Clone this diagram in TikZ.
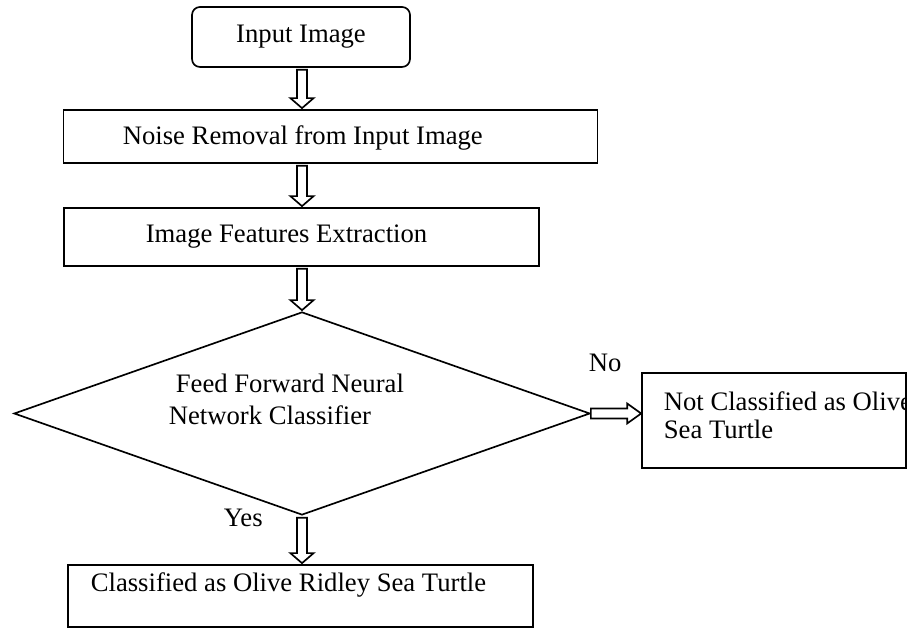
\documentclass[tikz,border=0pt]{standalone}
\usepackage{fontspec}
\setmainfont{Liberation Serif}
\usetikzlibrary{shapes.geometric,calc}
\newcommand\vblock[2]{%
  \draw[blk] let \p1=($(ax |- #1)+(0,2)$), \p2=($(ax |- #2)+(0,-1)$) in
    (\x1-2.25pt,\y1) -- (\x1+2.25pt,\y1) -- (\x1+2.25pt,\y2+4.5pt) --
    (\x1+5.2pt,\y2+4.5pt) -- (\x1,\y2) -- (\x1-5.2pt,\y2+4.5pt) --
    (\x1-2.25pt,\y2+4.5pt) -- cycle;}
\begin{document}
\begin{tikzpicture}[x=0.45pt,y=-0.45pt, line width=0.75pt,
  every node/.style={font=\fontsize{12}{14}\selectfont, inner sep=0pt},
  box/.style={draw, rectangle},
  txt/.style={anchor=base west},
  blk/.style={draw, line width=0.75pt, line join=miter, fill=white}]
\useasboundingbox[fill=white] (0,0) rectangle (916,633);
\coordinate (ax) at (302,0);

% boxes
\node[box, rounded corners=3.6pt, minimum width=98.1pt, minimum height=27pt] (in) at (301,37) {Input Image};
\node[box, minimum width=240.3pt, minimum height=23.85pt] (noise) at (330.5,136.5) {};
\node[txt] (noiset) at (122,145) {Noise Removal from Input Image};
\node[box, minimum width=213.75pt, minimum height=26.1pt] (feat) at (301.5,237) {};
\node[txt] (featt) at (145,243) {Image Features Extraction};
\node[draw, diamond, minimum width=259.2pt, minimum height=91.35pt] (clf) at (302,413.5) {};
\node[txt] (clft1) at (175,393) {Feed Forward Neural};
\node[txt] (clft2) at (168,425) {Network Classifier};
\node[box, minimum width=118.8pt, minimum height=42.75pt] (nc) at (774,420.5) {};
\begin{scope}
  \clip (nc.south west) rectangle (nc.north east);
  \node[txt] (nct1) at (663,411) {Not Classified as Olive};
  \node[txt] (nct2) at (663,439) {Sea Turtle};
\end{scope}
\node[box, minimum width=209.25pt, minimum height=27.9pt] (bot) at (300.5,596) {};
\node[txt] (bott) at (90,592) {Classified as Olive Ridley Sea Turtle};

% labels
\node[txt] (no) at (588,372) {No};
\node[txt] (yes) at (223,527) {Yes};

% block arrows
\vblock{in.south}{noise.north}
\vblock{noise.south}{feat.north}
\vblock{feat.south}{clf.north}
\vblock{clf.south}{bot.north}
\draw[blk] let \p1=(clf.east), \p2=(nc.west) in
  (\x1,\y1+2.25pt) -- (\x2-6.3pt,\y1+2.25pt) -- (\x2-6.3pt,\y1+4.5pt) --
  (\x2,\y1) -- (\x2-6.3pt,\y1-4.5pt) -- (\x2-6.3pt,\y1-2.25pt) --
  (\x1,\y1-2.25pt) -- cycle;
\end{tikzpicture}
\end{document}
